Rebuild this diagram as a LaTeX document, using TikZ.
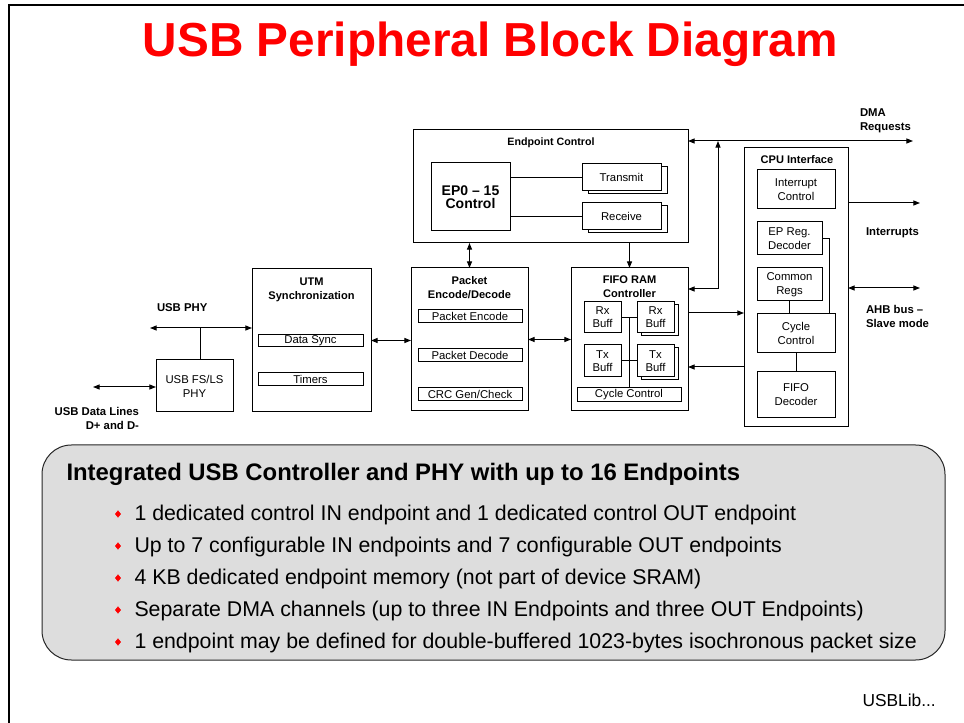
\documentclass[tikz,border=0pt]{standalone}
\usepackage{fontspec}
\setmainfont{Liberation Sans}
\usetikzlibrary{arrows.meta,shapes.geometric}
\definecolor{panel}{RGB}{221,221,221}
\definecolor{titlered}{RGB}{255,0,0}

% \blockat{name}{x1}{y1}{x2}{y2}{style}{text}: box given by its pixel corners
\newcommand\blockat[7]{\node[#6, minimum width={(#4-#2)*0.75pt}, minimum height={(#5-#3)*0.75pt}] (#1) at ({(#2+#4)/2},{(#3+#5)/2}) {#7};}

\begin{document}
\begin{tikzpicture}[x=0.75pt, y=-0.75pt, line width=0.75pt,
  >={Triangle[length=5pt,width=3.8pt]},
  blk/.style={draw, fill=white, inner sep=0pt, outer sep=0pt, align=center,
    font=\fontsize{8.5}{10.5}\selectfont},
  subbox/.style={blk, font=\fontsize{8.5}{9.75}\selectfont},
  boxtitle/.style={inner sep=0pt, outer sep=0pt, align=center, anchor=north,
    font=\bfseries\fontsize{8.3}{10.5}\selectfont},
  sidelabel/.style={inner sep=0pt, outer sep=0pt, align=left, anchor=north west,
    font=\bfseries\fontsize{8.5}{10.5}\selectfont},
  bullettext/.style={inner sep=0pt, anchor=base west, font=\fontsize{16}{18}\selectfont},
  bulletmark/.style={diamond, fill=red, inner sep=0pt, minimum width=4.8pt, minimum height=5.8pt}]

\useasboundingbox (0,0) rectangle (964,723);

% slide frame
\draw[line width=1.5pt] (9,723) -- (9,5) -- (964,5);

% title
\node[anchor=base, inner sep=0pt, text=titlered, font=\bfseries\fontsize{35.8}{40}\selectfont]
  (title) at (490.5,57) {USB Peripheral Block Diagram};

% ---------- Endpoint control ----------
\blockat{epc}{413}{130}{688}{243}{blk}{}
\node[boxtitle, font=\bfseries\fontsize{8}{10.5}\selectfont] (epctitle) at (551,138) {Endpoint Control};
\blockat{ep}{431}{163}{510}{231}{blk, font=\bfseries\fontsize{10.5}{9.4}\selectfont}{EP0 -- 15\\Control}
\blockat{txs}{588}{167}{667}{194}{blk}{}
\blockat{tx}{582}{164}{661}{191}{blk}{Transmit}
\blockat{rxs}{588}{206}{667}{233}{blk}{}
\blockat{rx}{582}{203}{661}{230}{blk}{Receive}

% ---------- UTM synchronization ----------
\blockat{utm}{252}{269}{371}{412}{blk}{}
\node[boxtitle] (utmtitle) at (311.5,278) {UTM\\Synchronization};
\blockat{dsync}{258}{335}{363}{347}{subbox}{Data Sync}
\blockat{tmr}{258}{373}{363}{386}{subbox}{Timers}

% ---------- Packet encode/decode ----------
\blockat{pkt}{411}{268}{528}{411}{blk}{}
\node[boxtitle] (pkttitle) at (469.5,276) {Packet\\Encode/Decode};
\blockat{penc}{418}{310}{522}{323}{subbox}{Packet Encode}
\blockat{pdec}{418}{349}{522}{362}{subbox}{Packet Decode}
\blockat{crc}{418}{388}{522}{401}{subbox}{CRC Gen/Check}

% ---------- FIFO RAM controller ----------
\blockat{fifo}{571}{268}{688}{411}{blk}{}
\node[boxtitle] (fifotitle) at (629.5,276) {FIFO RAM\\Controller};
\blockat{rxa}{584}{302}{621}{333}{subbox}{Rx\\Buff}
\blockat{rxbs}{641}{305}{678}{336}{subbox}{}
\blockat{rxb}{637}{302}{674}{333}{subbox}{Rx\\Buff}
\blockat{txa}{584}{345}{621}{377}{subbox}{Tx\\Buff}
\blockat{txbs}{641}{348}{678}{380}{subbox}{}
\blockat{txb}{637}{345}{674}{377}{subbox}{Tx\\Buff}
\blockat{fcyc}{577}{388}{681}{402}{subbox}{Cycle Control}

% ---------- USB PHY ----------
\blockat{phy}{156}{360}{233}{412}{blk}{USB FS/LS\\PHY}

% ---------- CPU interface ----------
\blockat{cpu}{744}{148}{848}{427}{blk}{}
\node[boxtitle] (cputitle) at (797,155) {CPU Interface};
\blockat{irc}{757}{170}{835}{209}{blk}{Interrupt\\Control}
\blockat{epr}{757}{222}{822}{255}{blk}{EP Reg.\\Decoder}
\blockat{creg}{757}{268}{822}{301}{blk}{Common\\Regs}
\blockat{ccyc}{757}{314}{835}{353}{blk}{Cycle\\Control}
\blockat{fdec}{757}{372}{835}{418}{blk}{FIFO\\Decoder}

% ---------- outside labels ----------
\node[sidelabel] (lblphy) at (157,304) {USB PHY};
\node[sidelabel, align=right, anchor=north east] (lbldata) at (139,407) {USB Data Lines\\D+ and D-};
\node[sidelabel] (lbldma) at (860,109) {DMA\\Requests};
\node[sidelabel] (lblirq) at (866,228) {Interrupts};
\node[sidelabel] (lblahb) at (866,305) {AHB bus --\\Slave mode};

% ---------- connectors ----------
\draw (ep.east |- tx.west) -- (tx.west);
\draw (ep.east |- rx.west) -- (rx.west);
\draw[<->] (pkt.north) -- (pkt.north |- epc.south);
\draw[->] (epc.south -| fifo.north) -- (fifo.north);
\draw[<->] (utm.east) -- (utm.east -| pkt.west);
\draw[<->] (pkt.east) -- (pkt.east -| fifo.west);

\coordinate (phyend) at (150,328);
\coordinate (phytee) at (200,328);
\draw[<->] (phyend) -- (phyend -| utm.west);
\draw (phytee) -- (phytee |- phy.north);
\coordinate (dlend) at (93,387);
\draw[<->] (dlend) -- (dlend -| phy.west);

\coordinate (dmaend) at (913,141);
\draw[<->] (epc.east |- dmaend) -- (dmaend);
\coordinate (fifotap) at (718,289);
\draw[<->] (fifotap -| fifo.east) -- (fifotap) -- (fifotap |- dmaend);
\coordinate (irqend) at (920,203);
\draw[->] (cpu.east |- irqend) -- (irqend);
\coordinate (ahbend) at (920,288);
\draw[<->] (cpu.east |- ahbend) -- (ahbend);
\coordinate (tocpu) at (700,313);
\coordinate (tofifo) at (700,367);
\draw[->] (fifo.east |- tocpu) -- (cpu.west |- tocpu);
\draw[->] (cpu.west |- tofifo) -- (fifo.east |- tofifo);

\draw (rxa.east) -- (rxb.west);
\draw (txa.east) -- (txb.west);
\coordinate (bufbus) at (629,317.5);
\draw (bufbus) -- (bufbus |- fcyc.north);

\draw (epr.east) -- ++(7,0) coordinate (eprturn) -- (eprturn |- ccyc.north);
\draw (creg.south) -- (creg.south |- ccyc.north);
\draw (ccyc.south) -- (ccyc.south |- fdec.north);

% ---------- feature panel ----------
\blockat{feat}{42}{445}{945}{660}{draw=black!85, fill=panel, rounded corners=22pt, inner sep=0pt}{}
\node[inner sep=0pt, anchor=base west, font=\bfseries\fontsize{17.9}{20}\selectfont]
  (feathead) at (66,480) {Integrated USB Controller and PHY with up to 16 Endpoints};
\node[bulletmark] (b1) at (118,514) {};
\node[bullettext] (t1) at (134,520) {1 dedicated control IN endpoint and 1 dedicated control OUT endpoint};
\node[bulletmark] (b2) at (118,546) {};
\node[bullettext] (t2) at (134,552) {Up to 7 configurable IN endpoints and 7 configurable OUT endpoints};
\node[bulletmark] (b3) at (118,578) {};
\node[bullettext] (t3) at (134,584) {4 KB dedicated endpoint memory (not part of device SRAM)};
\node[bulletmark] (b4) at (118,610) {};
\node[bullettext] (t4) at (134,616) {Separate DMA channels (up to three IN Endpoints and three OUT Endpoints)};
\node[bulletmark] (b5) at (118,642) {};
\node[bullettext] (t5) at (134,648) {1 endpoint may be defined for double-buffered 1023-bytes isochronous packet size};

\node[inner sep=0pt, anchor=base west, font=\fontsize{13}{15}\selectfont] (lib) at (862,706) {USBLib...};
\end{tikzpicture}
\end{document}
